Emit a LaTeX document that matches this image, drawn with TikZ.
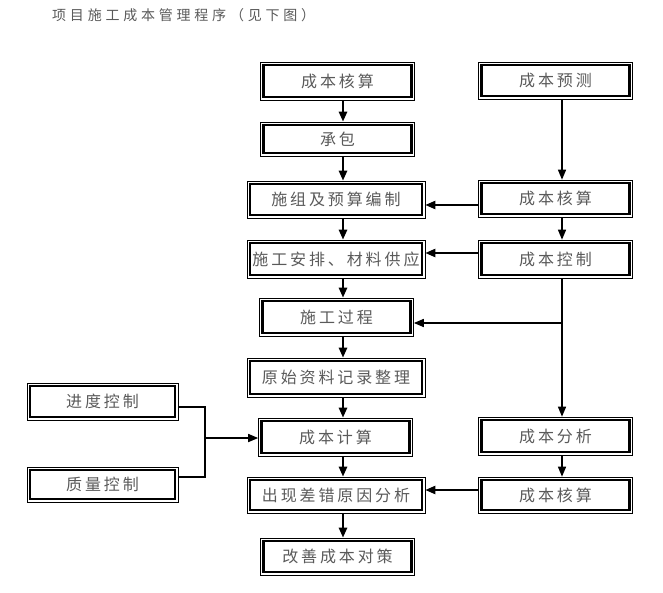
\documentclass[tikz,border=0pt]{standalone}
\usepackage{fontspec}
\newfontfamily\boxfont[LetterSpace=18]{Noto Sans CJK SC}
\newfontfamily\titlefont[LetterSpace=27]{Noto Sans CJK SC}
\usetikzlibrary{arrows.meta,calc}
\definecolor{txt}{HTML}{5A5A5A}
\begin{document}
\begin{tikzpicture}[x=1pt,y=-1pt,
  box/.style={draw=black, line width=0.6pt, fill=white, inner sep=0pt,
    font=\boxfont\fontsize{16}{16}\selectfont, text=txt,
    path picture={\draw[line width=2.6pt]
      ([shift={(3pt,-3pt)}]path picture bounding box.north west) rectangle
      ([shift={(-3pt,3pt)}]path picture bounding box.south east);}},
  wide/.style={box, minimum width=178pt},
  narrow/.style={box, minimum width=154pt},
  arrL/.style={-{Triangle[length=10pt,width=8pt]}, line width=2.4pt},
  arrR/.style={-{Triangle[length=10pt,width=8pt]}, line width=1.3pt},
  arrH/.style={-{Triangle[length=10pt,width=8pt]}, line width=1.6pt},
  arrH2/.style={-{Triangle[length=10pt,width=8pt]}, line width=2.2pt},
  link/.style={line width=1.5pt}
]
\useasboundingbox (0,0) rectangle (663,593);
\fill[white] (0,0) rectangle (663,593);

\node[anchor=west, font=\titlefont\fontsize{14}{14}\selectfont, text=txt, inner sep=0pt] (title) at (52,15) {项目施工成本管理程序（见下图）};

% left column
\node[narrow, minimum height=38pt] (L1) at (337.5,81) {成本核算};
\node[narrow, minimum height=34pt] (L2) at (337.5,139) {承包};
\node[wide, minimum height=37pt] (L3) at (336,199.5) {施组及预算编制};
\node[wide, minimum height=38pt] (L4) at (336,259) {施工安排、材料供应};
\node[narrow, minimum height=38pt] (L5) at (336.5,317) {施工过程};
\node[wide, minimum height=39pt] (L6) at (336,377.5) {原始资料记录整理};
\node[narrow, minimum height=38pt] (L7) at (335.5,437) {成本计算};
\node[wide, minimum height=36pt] (L8) at (336,495) {出现差错原因分析};
\node[narrow, minimum height=37pt] (L9) at (337.5,556.5) {改善成本对策};

% right column
\node[narrow, minimum height=37pt] (R1) at (555.5,80.5) {成本预测};
\node[narrow, minimum height=37pt] (R2) at (555.5,198.5) {成本核算};
\node[narrow, minimum height=38pt] (R3) at (555.5,259) {成本控制};
\node[narrow, minimum height=38pt] (R4) at (555.5,436) {成本分析};
\node[narrow, minimum height=36pt] (R5) at (555.5,495) {成本核算};

% side boxes
\node[box, minimum width=151pt, minimum height=37pt] (S1) at (102.5,401.5) {进度控制};
\node[box, minimum width=151pt, minimum height=35pt] (S2) at (102.5,484.5) {质量控制};

% reference coordinates
\coordinate (cl) at (343,0);
\coordinate (cr) at (562,0);
\coordinate (jx) at (205,0);
\coordinate (yA) at (0,205);
\coordinate (yB) at (0,253);
\coordinate (yC) at (0,323);
\coordinate (yD) at (0,490);
\coordinate (yE) at (0,407);
\coordinate (yF) at (0,477);
\coordinate (yG) at (0,438);

% left column arrows
\foreach \a/\b in {L1/L2,L2/L3,L3/L4,L4/L5,L5/L6,L6/L7,L7/L8,L8/L9}
  \draw[arrL] (\a.south -| cl) -- (\b.north -| cl);

% right column arrows
\draw[arrR] (R1.south -| cr) -- (R2.north -| cr);
\draw[arrR] (R2.south -| cr) -- (R3.north -| cr);
\draw[arrR] (R3.south -| cr) -- (R4.north -| cr);
\draw[arrR] (R4.south -| cr) -- (R5.north -| cr);

% horizontal arrows
\draw[arrH2] (R2.west |- yA) -- (L3.east |- yA);
\draw[arrH2] (R3.west |- yB) -- (L4.east |- yB);
\draw[arrH] (cr |- yC) -- (L5.east |- yC);
\draw[arrH2] (R5.west |- yD) -- (L8.east |- yD);

% side bracket
\draw[link] (S1.east |- yE) -- (jx |- yE) -- (jx |- yF) -- (S2.east |- yF);
\draw[arrH] (jx |- yG) -- (L7.west |- yG);
\end{tikzpicture}
\end{document}
